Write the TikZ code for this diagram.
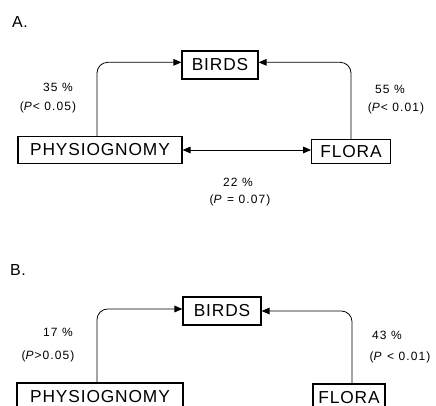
\documentclass[tikz,border=0pt]{standalone}
\usepackage{fontspec}
\setmainfont{Liberation Sans}[LetterSpace=5]
\usetikzlibrary{arrows.meta,positioning,calc}
\tikzset{
	box/.style={
		rectangle, draw, line width=0.9pt, inner xsep=2pt, inner ysep=0pt,
		minimum height=20pt, font=\fontsize{13}{15}\selectfont
	},
	%
	link/.style={
		line width=0.6pt, rounded corners=8pt
	},
	%
	tip/.style={
		-{Triangle[length=6pt,width=5pt]}
	},
	%
	stat/.style={
		inner sep=0pt, font=\fontsize{9}{11}\selectfont\addfontfeature{LetterSpace=9}
	},
	%
	panel/.style={
		inner sep=0pt, font=\fontsize{12}{14}\selectfont
	}
}
\begin{document}
\begin{tikzpicture}[x=0.75pt,y=-0.75pt]
    \useasboundingbox (0,0) rectangle (436,406);
    \clip (0,0) rectangle (436,406);
    % A.
    \node(labA)[panel] at (20,22){A.};
    \node(birdsA)[box, minimum width=57pt, minimum height=21pt] at (220,65){BIRDS};
    \node(physA)[box, minimum width=123pt] at (100,150){PHYSIOGNOMY};
    \node(floraA)[box, minimum width=59pt, minimum height=18pt] at (351,151.5){FLORA};
    \draw[link, tip] ([xshift=-2.25pt]physA.north) |- ([yshift=2pt]birdsA.west);
    \draw[link, tip] (floraA.north) |- ([yshift=2pt]birdsA.east);
    \draw[link, {Triangle[length=6pt,width=5pt]}-{Triangle[length=6pt,width=5pt]}] (physA.east) -- (physA.east -| floraA.west);
    \node(pA1)[stat] at (58,87){35 \%};
    \node(pA2)[stat] at (48,107){(\textit{P}< 0.05)};
    \node(fA1)[stat] at (390,89){55 \%};
    \node(fA2)[stat] at (396,108){(\textit{P}< 0.01)};
    \node(cA1)[stat] at (238,182){22 \%};
    \node(cA2)[stat] at (240,200){(\textit{P} = 0.07)};
    % B.
    \node(labB)[panel] at (18,270){B.};
    \node(birdsB)[box, minimum width=58.5pt, minimum height=21pt] at (222,311){BIRDS};
    \node(physB)[box, minimum width=124.5pt, minimum height=21pt] at (100,397){PHYSIOGNOMY};
    \node(floraB)[box, minimum width=54pt, minimum height=21pt] at (349,398){FLORA};
    \draw[link, tip] ([xshift=-2.25pt]physB.north) |- ([yshift=1.5pt]birdsB.west);
    \draw[link, tip] ([xshift=2.25pt]floraB.north) |- (birdsB.east);
    \node(pB1)[stat] at (58,332){17 \%};
    \node(pB2)[stat] at (48,356){(\textit{P}>0.05)};
    \node(fB1)[stat] at (387,335){43 \%};
    \node(fB2)[stat] at (400,357){(\textit{P} < 0.01)};
\end{tikzpicture}
\end{document}
